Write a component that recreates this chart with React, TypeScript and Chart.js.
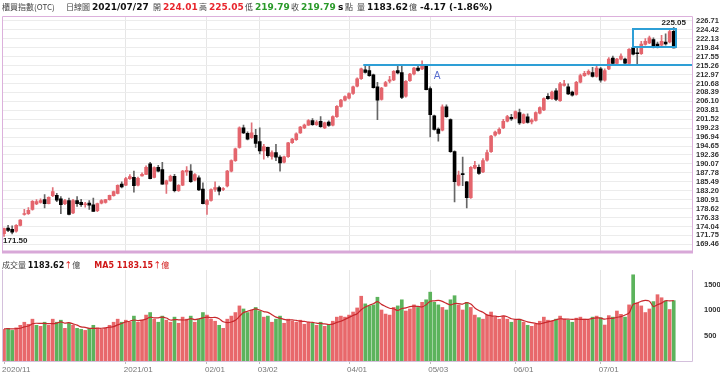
import React, { useEffect, useRef } from 'react';
import { Chart, registerables } from 'chart.js';

Chart.register(...registerables);

// ---------- data ----------
const opens = [
  172.2, 173.6, 173.3, 172.8, 174.3, 177.1, 177.3, 178.4, 179.8, 180.2,
  180.9, 179.9, 181.9, 182.0, 181.1, 179.9, 180.7, 177.5, 180.7, 180.2,
  179.6, 180.0, 179.6, 178.1, 180.0, 180.2, 180.9, 181.9, 182.5, 184.9,
  184.6, 186.3, 186.6, 184.6, 187.0, 187.4, 190.1, 186.6, 189.2, 188.6,
  184.9, 185.7, 186.9, 183.2, 184.6, 188.0, 188.2, 185.9, 186.5, 183.6,
  179.7, 180.7, 183.5, 184.0, 183.5, 184.4, 188.2, 190.9, 194.3, 199.3,
  197.9, 196.8, 197.4, 195.8, 193.4, 194.3, 192.0, 193.0, 191.8, 190.5,
  191.9, 195.5, 196.3, 198.0, 199.3, 200.0, 201.2, 200.1, 201.0, 199.3,
  200.8, 200.0, 202.2, 204.8, 206.4, 206.9, 208.1, 210.0, 211.9, 214.2,
  214.0, 212.9, 209.8, 206.6, 210.0, 211.3, 211.6, 214.0, 213.5, 207.4,
  211.4, 213.1, 214.6, 214.4, 215.2, 209.4, 202.4, 199.0, 198.7, 204.7,
  201.4, 193.2, 184.6, 187.6, 185.5, 181.4, 189.0, 189.2, 188.0, 191.0,
  193.2, 197.4, 197.9, 199.3, 201.0, 202.0, 201.8, 203.2, 200.6, 202.1,
  200.8, 201.2, 203.1, 203.9, 207.4, 206.8, 208.8, 206.3, 210.2, 209.8,
  208.5, 207.9, 211.0, 212.7, 213.1, 213.5, 212.5, 214.4, 211.5, 214.4,
  217.2, 215.8, 216.9, 216.9, 215.8, 219.8, 218.4, 218.3, 220.7, 221.1,
  221.9, 220.8, 220.5, 221.3, 221.3, 224.01,
];
const highs = [
  173.6, 174.3, 174.2, 174.5, 175.8, 178.4, 178.9, 180.7, 180.9, 181.1,
  182.2, 181.6, 184.0, 182.5, 181.7, 181.0, 181.3, 181.0, 181.7, 181.0,
  180.2, 180.7, 181.3, 180.0, 180.9, 181.0, 182.1, 183.1, 184.7, 185.5,
  186.6, 187.3, 188.2, 186.7, 187.8, 189.6, 190.5, 189.3, 189.7, 190.5,
  185.9, 187.2, 187.4, 184.8, 188.4, 189.4, 189.9, 187.6, 187.0, 185.2,
  181.0, 183.7, 185.5, 184.4, 184.0, 188.4, 191.1, 194.1, 199.6, 200.0,
  198.3, 200.6, 198.9, 199.3, 195.1, 194.4, 193.4, 195.1, 192.2, 192.1,
  195.6, 196.6, 198.0, 199.7, 200.3, 201.4, 201.7, 201.2, 202.2, 200.8,
  201.1, 202.4, 205.0, 206.6, 207.5, 208.3, 210.0, 212.1, 214.6, 215.5,
  215.4, 213.1, 211.0, 209.7, 211.2, 212.5, 214.0, 215.2, 215.4, 211.4,
  213.3, 214.8, 215.2, 216.5, 215.6, 209.8, 202.6, 199.3, 205.2, 205.2,
  201.6, 193.4, 188.2, 191.8, 185.6, 189.4, 190.7, 189.8, 191.4, 193.6,
  197.4, 198.5, 199.3, 201.5, 202.5, 202.8, 203.7, 204.1, 202.9, 202.9,
  201.6, 203.4, 204.7, 207.0, 208.1, 208.7, 209.4, 211.0, 211.5, 210.6,
  208.7, 211.2, 213.1, 213.8, 214.2, 214.8, 215.4, 214.8, 214.4, 217.3,
  217.7, 217.1, 218.3, 217.2, 219.6, 220.3, 219.8, 221.5, 222.2, 222.8,
  222.4, 221.3, 223.0, 223.4, 224.7, 225.05,
];
const lows = [
  171.5, 172.7, 172.1, 172.6, 174.2, 176.9, 177.1, 178.2, 179.6, 180.0,
  178.8, 179.8, 181.7, 180.4, 177.3, 179.6, 177.0, 177.3, 179.2, 179.2,
  179.0, 178.4, 177.9, 177.8, 179.8, 180.0, 180.8, 181.8, 182.4, 183.9,
  184.5, 186.1, 182.8, 184.4, 186.9, 187.3, 186.2, 186.5, 188.0, 184.8,
  182.5, 185.6, 182.9, 183.0, 184.5, 187.1, 185.3, 185.7, 183.2, 179.8,
  177.1, 180.5, 183.0, 182.1, 183.2, 184.2, 188.0, 190.7, 194.1, 197.8,
  196.2, 196.6, 194.3, 192.6, 191.3, 191.8, 191.3, 190.9, 188.2, 190.3,
  191.7, 195.3, 196.1, 197.9, 199.1, 199.9, 199.9, 199.9, 199.4, 199.1,
  199.7, 199.8, 202.0, 204.6, 206.2, 206.7, 207.9, 209.8, 211.7, 213.3,
  212.5, 209.5, 201.4, 206.4, 209.9, 210.8, 211.4, 213.1, 206.8, 207.2,
  211.2, 212.9, 213.8, 214.2, 209.0, 197.0, 198.7, 195.9, 198.5, 202.0,
  193.0, 180.3, 184.4, 184.5, 178.8, 181.2, 188.8, 187.4, 187.8, 190.8,
  193.0, 197.2, 197.7, 199.1, 200.8, 201.2, 201.6, 200.2, 200.4, 200.5,
  200.3, 201.0, 202.9, 203.7, 206.6, 206.6, 206.3, 206.1, 210.0, 207.8,
  207.4, 207.7, 210.8, 212.5, 212.9, 212.3, 212.3, 211.0, 211.3, 214.2,
  215.6, 215.6, 216.7, 215.7, 215.6, 218.0, 215.5, 218.1, 220.5, 220.9,
  219.8, 219.8, 220.3, 220.5, 221.1, 219.79,
];
const closes = [
  173.5, 173.0, 172.6, 174.3, 175.7, 177.3, 178.2, 180.5, 180.4, 180.7,
  179.9, 181.5, 183.0, 180.8, 179.6, 180.7, 177.1, 180.7, 179.9, 179.6,
  179.8, 179.5, 177.9, 179.9, 180.7, 180.9, 182.0, 183.0, 184.6, 184.2,
  186.3, 186.8, 184.5, 186.4, 187.4, 189.2, 186.3, 189.1, 188.2, 184.9,
  185.7, 186.9, 183.2, 184.6, 188.2, 188.4, 185.5, 187.3, 183.4, 179.9,
  180.7, 183.5, 184.0, 183.1, 183.6, 188.2, 190.9, 193.9, 199.3, 198.0,
  196.4, 198.0, 195.3, 193.4, 194.5, 192.2, 193.0, 191.8, 190.3, 191.9,
  195.5, 196.4, 197.8, 199.5, 200.0, 201.2, 200.1, 200.8, 199.6, 200.6,
  199.9, 202.2, 204.8, 206.4, 207.3, 208.1, 209.8, 211.9, 214.4, 213.5,
  212.7, 209.6, 206.4, 209.5, 210.9, 211.6, 213.8, 213.4, 207.1, 211.2,
  213.1, 214.6, 214.0, 215.4, 209.1, 202.7, 198.9, 197.9, 204.7, 202.2,
  193.2, 185.5, 187.2, 187.3, 181.4, 189.2, 189.7, 187.6, 190.9, 193.0,
  197.2, 198.2, 198.9, 201.0, 202.2, 201.6, 203.5, 200.6, 202.7, 200.7,
  201.3, 203.2, 204.5, 206.8, 206.8, 208.5, 206.6, 210.6, 210.6, 208.0,
  207.7, 211.0, 212.7, 213.3, 213.8, 212.5, 214.6, 211.5, 214.0, 216.9,
  215.8, 216.9, 217.7, 215.9, 219.4, 218.2, 218.3, 220.8, 221.5, 222.4,
  220.0, 220.1, 221.5, 220.8, 223.96, 219.79,
];
const volumes = [
  620, 640, 600, 650, 700, 760, 720, 820, 700, 680,
  760, 700, 820, 760, 800, 640, 740, 700, 640, 620,
  600, 640, 700, 650, 620, 640, 700, 760, 820, 760,
  800, 760, 880, 760, 800, 900, 950, 820, 760, 880,
  800, 760, 860, 740, 860, 820, 880, 760, 820, 950,
  900, 820, 780, 700, 640, 820, 880, 950, 1080, 1020,
  950, 1000, 1050, 980, 860, 880, 760, 820, 880, 740,
  820, 780, 760, 800, 720, 760, 740, 700, 760, 680,
  700, 780, 860, 880, 860, 900, 960, 1040, 1270, 1120,
  1080, 1100, 1250, 1000, 920, 900, 1050, 1080, 1200, 980,
  1020, 1100, 1050, 1150, 1200, 1350, 1150, 1100, 1050, 1000,
  1200, 1280, 1100, 1000, 1150, 1050, 900, 850, 820, 900,
  960, 860, 820, 880, 820, 760, 800, 820, 760, 700,
  680, 720, 780, 860, 800, 780, 820, 880, 820, 800,
  760, 840, 860, 820, 800, 860, 880, 850, 705, 890,
  860, 980, 915, 860, 1100, 1690, 1130, 1080, 950, 1020,
  1165, 1300, 1240, 1180, 1010, 1183.62,
];
const ma5 = [
  630, 635, 628, 636, 642, 670, 686, 730, 740, 736,
  736, 732, 732, 744, 768, 744, 752, 728, 704, 668,
  660, 640, 640, 642, 642, 650, 662, 674, 708, 736,
  768, 780, 804, 792, 800, 820, 858, 846, 846, 862,
  842, 804, 812, 808, 804, 808, 832, 812, 828, 846,
  862, 850, 854, 830, 768, 752, 764, 798, 874, 950,
  976, 1000, 1020, 1000, 968, 954, 906, 860, 840, 816,
  804, 808, 796, 780, 776, 764, 756, 744, 736, 728,
  716, 724, 756, 780, 816, 856, 892, 928, 1006, 1058,
  1094, 1122, 1164, 1110, 1070, 1034, 1024, 990, 1030, 1042,
  1066, 1076, 1070, 1060, 1104, 1170, 1180, 1190, 1170, 1130,
  1100, 1126, 1126, 1116, 1146, 1116, 1040, 990, 954, 904,
  886, 878, 872, 884, 868, 828, 816, 816, 792, 768,
  752, 736, 728, 748, 768, 788, 808, 828, 820, 820,
  816, 820, 816, 816, 816, 836, 844, 842, 819, 837,
  837, 857, 870, 901, 943, 1109, 1139, 1172, 1190, 1174,
  1069, 1103, 1135, 1181, 1179, 1183.15,
];
const monthTickIndex = [0, 30, 50, 63, 85, 105, 126, 147];
const monthTickLabels = ['2020/11', '2021/01', '02/01', '03/02', '04/01', '05/03', '06/01', '07/01'];
const priceTicks = [
  226.71, 224.42, 222.13, 219.84, 217.55, 215.26, 212.97, 210.68, 208.39, 206.1,
  203.81, 201.52, 199.23, 196.94, 194.65, 192.36, 190.07, 187.78, 185.49, 183.2,
  180.91, 178.62, 176.33, 174.04, 171.75, 169.46,
];
const volumeTicks = [500, 1000, 1500];
const resistanceLevel = 215.5;
const resistanceStartIndex = 89;
const boxFromIndex = 155;
const boxToIndex = 165;
const boxLow = 220.0;
const boxHigh = 224.7;
const markAIndex = 106;
const markAValue = 212.4;
const TOTAL_SLOTS = 170;

// ---------- styles ----------
const RED = '#e4656d';
const BLACK = '#000000';
const VOL_RED = '#e8686b';
const VOL_GREEN = '#5cb35c';
const PINK = '#dcb0dc';
const GRID = '#ececec';
const BLUE = '#2e9fd6';
const NUM_FONT = '"Liberation Sans", Arial, sans-serif';

const slotLabels = Array.from({ length: TOTAL_SLOTS }, (_, i) => String(i));
const monthGridColor = (ctx: any) =>
  monthTickIndex.includes(ctx.index) && ctx.index !== 0 ? '#e6e6e6' : 'rgba(0,0,0,0)';

export default function App() {
  const priceRef = useRef<HTMLCanvasElement>(null);
  const volRef = useRef<HTMLCanvasElement>(null);

  useEffect(() => {
    document.body.style.margin = '0';
    document.body.style.background = '#ffffff';
    const n = closes.length;
    const candleUp = closes.map((c, i) => c >= opens[i]);
    const volUp = closes.map((c, i) => (i === 0 ? candleUp[0] : c >= closes[i - 1]));

    const pricePlugin = {
      id: 'priceDecor',
      afterDatasetsDraw(chart: any) {
        const { ctx, chartArea, scales } = chart;
        const x = scales.x;
        const y = scales.y;
        ctx.save();
        ctx.strokeStyle = BLUE;
        ctx.lineWidth = 2;
        ctx.beginPath();
        const ly = Math.round(y.getPixelForValue(resistanceLevel));
        ctx.moveTo(x.getPixelForValue(resistanceStartIndex) - 2, ly);
        ctx.lineTo(chartArea.right, ly);
        ctx.stroke();
        const bx1 = x.getPixelForValue(boxFromIndex);
        const bx2 = x.getPixelForValue(boxToIndex) + 2;
        const by1 = y.getPixelForValue(boxHigh);
        const by2 = y.getPixelForValue(boxLow);
        ctx.strokeRect(Math.round(bx1), Math.round(by1), Math.round(bx2 - bx1), Math.round(by2 - by1));
        ctx.fillStyle = '#5a6ed0';
        ctx.font = '10px "DejaVu Sans", sans-serif';
        ctx.textAlign = 'center';
        ctx.textBaseline = 'middle';
        ctx.fillText('A', x.getPixelForValue(markAIndex) + 3, y.getPixelForValue(markAValue));
        let hi = 0;
        let lo = 0;
        for (let i = 0; i < n; i++) {
          if (highs[i] > highs[hi]) hi = i;
          if (lows[i] < lows[lo]) lo = i;
        }
        ctx.fillStyle = '#222';
        ctx.font = 'bold 8px ' + NUM_FONT;
        ctx.textAlign = 'center';
        ctx.textBaseline = 'bottom';
        ctx.fillText(highs[hi].toFixed(2), x.getPixelForValue(hi), y.getPixelForValue(highs[hi]) - 1);
        ctx.textAlign = 'left';
        ctx.textBaseline = 'top';
        ctx.fillText(lows[lo].toFixed(2), x.getPixelForValue(lo) - 1, y.getPixelForValue(lows[lo]) + 0.5);
        ctx.restore();
      },
      afterDraw(chart: any) {
        const { ctx, chartArea } = chart;
        ctx.save();
        ctx.strokeStyle = PINK;
        ctx.lineWidth = 1;
        ctx.beginPath();
        ctx.moveTo(chartArea.left + 0.5, chartArea.bottom);
        ctx.lineTo(chartArea.left + 0.5, chartArea.top + 0.5);
        ctx.lineTo(chartArea.right + 0.5, chartArea.top + 0.5);
        ctx.lineTo(chartArea.right + 0.5, chartArea.bottom);
        ctx.stroke();
        ctx.fillStyle = '#d8a8d8';
        ctx.fillRect(chartArea.left, chartArea.bottom - 1, chartArea.right - chartArea.left + 1, 3);
        ctx.restore();
      },
    };

    const price = new Chart(priceRef.current as HTMLCanvasElement, {
      type: 'bar',
      data: {
        labels: slotLabels,
        datasets: [
          {
            data: lows.map((l, i) => [l, highs[i]]) as any,
            backgroundColor: candleUp.map((u) => (u ? '#e0727a' : '#666666')),
            barThickness: 1,
            grouped: false,
            order: 2,
          } as any,
          {
            data: opens.map((o, i) => [o, closes[i]]) as any,
            backgroundColor: candleUp.map((u) => (u ? RED : BLACK)),
            barThickness: 3,
            minBarLength: 1,
            grouped: false,
            order: 1,
          } as any,
        ],
      },
      options: {
        responsive: false,
        animation: false,
        layout: { padding: { left: 2, top: 16, right: 0, bottom: 4 } },
        plugins: { legend: { display: false }, tooltip: { enabled: false } },
        scales: {
          x: {
            type: 'category',
            offset: true,
            grid: { offset: false, color: monthGridColor, drawTicks: false },
            ticks: { display: false },
            border: { display: false },
          },
          y: {
            position: 'right',
            min: 167.62,
            max: 227.97,
            afterBuildTicks: (s: any) => {
              s.ticks = priceTicks.map((v) => ({ value: v }));
            },
            afterFit: (s: any) => {
              s.width = 28;
            },
            ticks: {
              autoSkip: false,
              padding: 4,
              color: '#333',
              font: { family: NUM_FONT, size: 7.5, weight: 'bold' },
              callback: (v: any) => Number(v).toFixed(2),
            },
            grid: { color: GRID, drawTicks: false },
            border: { display: false },
          },
        },
      } as any,
      plugins: [pricePlugin],
    });

    const volPlugin = {
      id: 'volDecor',
      afterDraw(chart: any) {
        const { ctx, chartArea } = chart;
        ctx.save();
        ctx.strokeStyle = '#d4c0dc';
        ctx.lineWidth = 1;
        ctx.beginPath();
        ctx.moveTo(chartArea.left + 0.5, chartArea.top);
        ctx.lineTo(chartArea.left + 0.5, chartArea.bottom + 0.5);
        ctx.lineTo(chartArea.right + 0.5, chartArea.bottom + 0.5);
        ctx.lineTo(chartArea.right + 0.5, chartArea.top);
        ctx.stroke();
        ctx.restore();
      },
    };

    const vol = new Chart(volRef.current as HTMLCanvasElement, {
      type: 'bar',
      data: {
        labels: slotLabels,
        datasets: [
          {
            type: 'line',
            data: ma5,
            borderColor: '#c8282d',
            borderWidth: 1.2,
            pointRadius: 0,
            tension: 0.35,
            order: 0,
          } as any,
          {
            data: volumes,
            backgroundColor: volUp.map((u) => (u ? VOL_RED : VOL_GREEN)),
            barThickness: 3,
            order: 1,
          } as any,
        ],
      },
      options: {
        responsive: false,
        animation: false,
        layout: { padding: { left: 2, top: 12, right: 0, bottom: 0 } },
        plugins: { legend: { display: false }, tooltip: { enabled: false } },
        scales: {
          x: {
            type: 'category',
            offset: true,
            afterFit: (s: any) => {
              s.height = 13;
            },
            grid: {
              offset: false,
              color: monthGridColor,
              tickColor: (c: any) => (monthTickIndex.includes(c.index) ? '#bbb' : 'rgba(0,0,0,0)'),
              drawTicks: true,
              tickLength: 3,
            },
            ticks: {
              autoSkip: false,
              maxRotation: 0,
              minRotation: 0,
              align: 'start',
              labelOffset: -2,
              padding: 1,
              color: '#777',
              font: { family: NUM_FONT, size: 8 },
              callback: (_v: any, i: number) => {
                const k = monthTickIndex.indexOf(i);
                return k >= 0 ? monthTickLabels[k] : '';
              },
            },
            border: { display: false },
          },
          y: {
            position: 'right',
            min: 0,
            max: 1784,
            afterBuildTicks: (s: any) => {
              s.ticks = volumeTicks.map((v) => ({ value: v }));
            },
            afterFit: (s: any) => {
              s.width = 28;
            },
            ticks: {
              autoSkip: false,
              padding: 4,
              color: '#333',
              font: { family: NUM_FONT, size: 7.5, weight: 'bold' },
              callback: (v: any) => String(v),
            },
            grid: { display: false },
            border: { display: false },
          },
        },
      } as any,
      plugins: [volPlugin],
    });

    return () => {
      price.destroy();
      vol.destroy();
    };
  }, []);

  const last = closes.length - 1;
  const chg = closes[last] - closes[last - 1];
  const pct = (chg / closes[last - 1]) * 100;
  const cjk = { fontFamily: '"Noto Sans CJK TC", sans-serif', fontSize: 8, color: '#444' } as React.CSSProperties;
  const num = { fontFamily: '"DejaVu Sans", sans-serif', fontSize: 9, fontWeight: 'bold' } as React.CSSProperties;
  const item = (x: number, content: React.ReactNode, style: React.CSSProperties, key: string) => (
    <span key={key} style={{ position: 'absolute', left: x, top: 0, lineHeight: '14px', whiteSpace: 'nowrap', ...style }}>
      {content}
    </span>
  );

  return (
    <div style={{ position: 'relative', width: 720, height: 374, overflow: 'hidden', background: '#fff' }}>
      <canvas ref={priceRef} width={720} height={260} style={{ position: 'absolute', left: 0, top: 0 }} />
      <canvas ref={volRef} width={720} height={116} style={{ position: 'absolute', left: 0, top: 258 }} />
      {item(2, '櫃買指數(OTC)', cjk, 'a')}
      {item(66, '日線圖', cjk, 'b')}
      {item(92, '2021/07/27', { ...num, color: '#111' }, 'c')}
      {item(153, '開', cjk, 'd')}
      {item(163, opens[last].toFixed(2), { ...num, color: '#e8262d' }, 'e')}
      {item(199, '高', cjk, 'f')}
      {item(209, highs[last].toFixed(2), { ...num, color: '#e8262d' }, 'g')}
      {item(245, '低', cjk, 'h')}
      {item(255, lows[last].toFixed(2), { ...num, color: '#2a9a2a' }, 'i')}
      {item(291, '收', cjk, 'j')}
      {item(301, closes[last].toFixed(2), { ...num, color: '#2a9a2a' }, 'k')}
      {item(338, 's', { ...num, color: '#111' }, 'l')}
      {item(345, '點', cjk, 'm')}
      {item(357, '量', cjk, 'n')}
      {item(367, volumes[last].toFixed(2), { ...num, color: '#111' }, 'o')}
      {item(409, '億', cjk, 'p')}
      {item(420, `${chg.toFixed(2)} (${pct.toFixed(2)}%)`, { ...num, color: '#111' }, 'q')}
      <div style={{ position: 'absolute', left: 2, top: 256, lineHeight: '13px', whiteSpace: 'nowrap' }}>
        <span style={cjk}>成交量 </span>
        <span style={{ ...num, fontSize: 8, color: '#111' }}>{volumes[last].toFixed(2)}</span>
        <span style={{ ...cjk, color: '#d00' }}>↑</span>
        <span style={cjk}>億</span>
        <span style={{ display: 'inline-block', width: 14 }} />
        <span style={{ ...num, fontSize: 8, color: '#d01818' }}>MA5 {ma5[last].toFixed(2)}</span>
        <span style={{ ...cjk, color: '#d00' }}>↑</span>
        <span style={{ ...cjk, color: '#d01818' }}>億</span>
      </div>
    </div>
  );
}
